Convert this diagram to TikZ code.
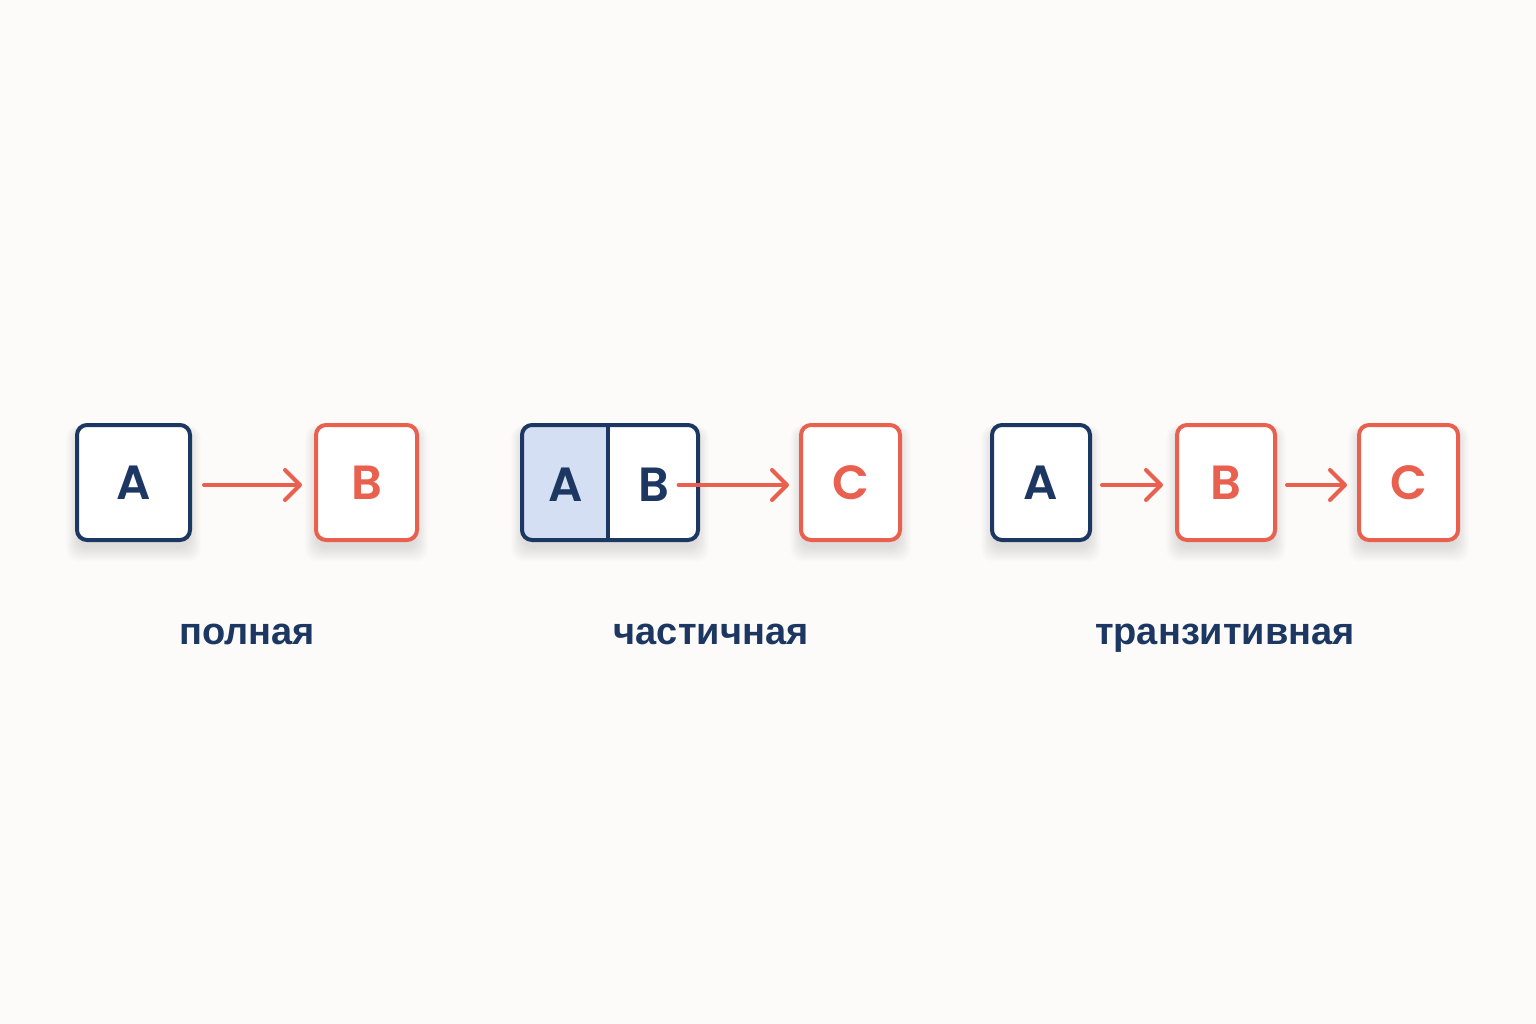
\documentclass[tikz,border=0pt]{standalone}
\usepackage{fontspec}
\setmainfont{Liberation Sans}
\newfontfamily\letterfont{Poppins SemiBold}
\usetikzlibrary{arrows.meta}
\definecolor{bgc}{HTML}{FCFBF9}
\definecolor{navy}{HTML}{1C3762}
\definecolor{coral}{HTML}{E9604F}
\definecolor{paleblue}{HTML}{D4DFF3}
\tikzset{
  box/.style={draw, line width=4pt, rounded corners=10pt, fill=white, minimum height=115pt,
    inner sep=0pt, font=\letterfont\fontsize{48}{48}\selectfont},
  navybox/.style={box, draw=navy, text=navy},
  coralbox/.style={box, draw=coral, text=coral},
  letter/.style={inner sep=0pt, font=\letterfont\fontsize{48}{48}\selectfont},
  conn/.style={draw=coral, line width=4pt, line cap=round, -{Straight Barb[length=15pt,width=30pt,line width=4pt, round]}},
  caption/.style={text=navy, anchor=base, font=\fontsize{38}{38}\selectfont\bfseries},
}
\newcommand{\softshadow}[4]{%
  \foreach \k in {0,...,9}{
    \fill[black, opacity=0.011, rounded corners=12pt]
      ({#1-#3/2-\k*1.2}, {#2-#4/2+5-\k*0.5}) rectangle ({#1+#3/2+\k*1.2}, {#2+#4/2+8+\k*1.5});
  }}
\begin{document}
\begin{tikzpicture}[x=1pt, y=-1pt]
\fill[bgc] (0,0) rectangle (1536,1024);
\useasboundingbox (0,0) rectangle (1536,1024);
% shadows
\softshadow{133.5}{482.5}{113}{115}
\softshadow{366.5}{482.5}{101}{115}
\softshadow{610}{482.5}{176}{115}
\softshadow{850.5}{482.5}{99}{115}
\softshadow{1041}{482.5}{98}{115}
\softshadow{1226}{482.5}{98}{115}
\softshadow{1408.5}{482.5}{99}{115}
% panel 1
\node[navybox, minimum width=113pt] (a1) at (133.5,482.5) {A};
\node[coralbox, minimum width=101pt] (b1) at (366.5,482.5) {B};
\draw[conn] ([xshift=12pt]a1.east |- 0,485) -- ([xshift=-12pt]b1.west |- 0,485);
% panel 2
\node[box, draw=none, minimum width=176pt] (ab2) at (610,482.5) {};
\begin{scope}
  \clip[rounded corners=10pt] (522,425) rectangle (698,540);
  \fill[paleblue] (522,425) rectangle (608,540);
\end{scope}
\draw[navy, line width=4pt, rounded corners=10pt] (522,425) rectangle (698,540);
\coordinate (div) at (608,482.5);
\draw[navy, line width=3.2pt] (div |- 0,425) -- (div |- 0,540);
\node[letter, text=navy] (a2) at (566,485) {A};
\node[letter, text=navy] (b2) at (654,485) {B};
\node[coralbox, minimum width=99pt] (c2) at (850.5,482.5) {C};
\draw[conn] ([xshift=9pt]b2.east |- 0,485) -- ([xshift=-10pt]c2.west |- 0,485);
% panel 3
\node[navybox, minimum width=98pt] (a3) at (1041,482.5) {A};
\node[coralbox, minimum width=98pt] (b3) at (1226,482.5) {B};
\node[coralbox, minimum width=99pt] (c3) at (1408.5,482.5) {C};
\draw[conn] ([xshift=10pt]a3.east |- 0,485) -- ([xshift=-12pt]b3.west |- 0,485);
\draw[conn] ([xshift=10pt]b3.east |- 0,485) -- ([xshift=-10pt]c3.west |- 0,485);
% captions
\node[caption] (l1) at (247,644) {полная};
\node[caption] (l2) at (711,644) {частичная};
\node[caption] (l3) at (1225,644) {транзитивная};
\end{tikzpicture}
\end{document}
